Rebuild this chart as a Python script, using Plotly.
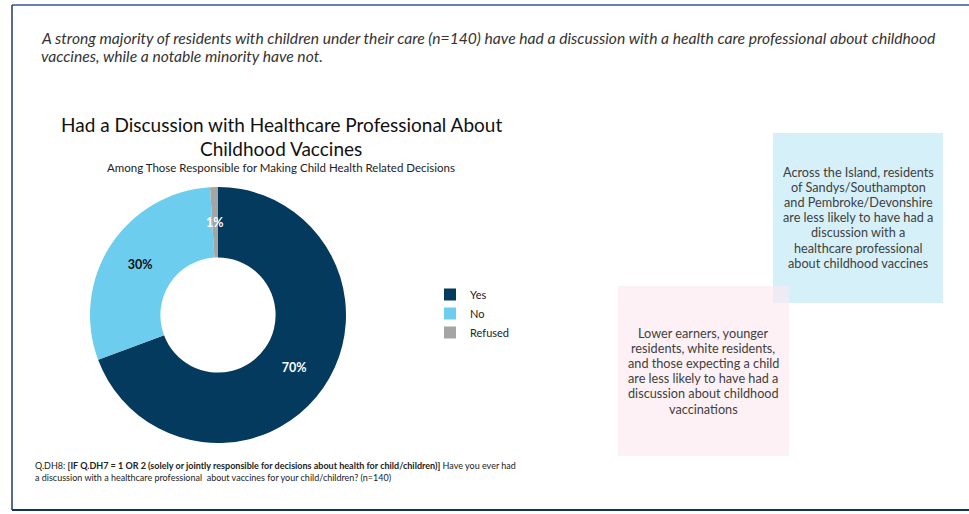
import math
import plotly.graph_objects as go

W, H = 969, 514

categories = ["Yes", "No", "Refused"]
values = [70, 30, 1]
labels_text = ["70%", "30%", "1%"]
colors = ["#033a5e", "#6dcdee", "#a5a5a5"]
label_colors = ["#ffffff", "#111111", "#ffffff"]

headline_lines = [
    "A strong majority of residents with children under their care (n=140) have had a discussion with a health care professional about childhood",
    "vaccines, while a notable minority have not.",
]
title_lines = ["Had a Discussion with Healthcare Professional About", "Childhood Vaccines"]
subtitle = "Among Those Responsible for Making Child Health Related Decisions"
footnote_lines = [
    "Q.DH8: <b>[IF Q.DH7 = 1 OR 2 (solely or jointly responsible for decisions about health for child/children)]</b> Have you ever had",
    "a discussion with a healthcare professional  about vaccines for your child/children? (n=140)",
]
blue_lines = ["Across the Island, residents", "of Sandys/Southampton", "and Pembroke/Devonshire",
              "are less likely to have had a", "discussion with a", "healthcare professional",
              "about childhood vaccines"]
pink_lines = ["Lower earners, younger", "residents, white residents,", "and those expecting a child",
              "are less likely to have had a", "discussion about childhood", "vaccinations"]

FONT = "Lato"


def px(x):
    return x / W


def py(y):
    return 1 - y / H


# donut geometry (pixels)
PIE_L, PIE_R, PIE_T, PIE_B = 90, 346, 187, 443
HOLE = 0.45

fig = go.Figure()
fig.add_trace(go.Pie(
    labels=categories,
    values=values,
    text=[t if v / sum(values) > 0.05 else "" for t, v in zip(labels_text, values)],
    textinfo="text",
    textposition="inside",
    insidetextorientation="horizontal",
    textfont=dict(family=FONT, size=12.5, color=label_colors, weight="bold"),
    marker=dict(colors=colors, line=dict(width=0)),
    hole=HOLE,
    sort=False,
    direction="clockwise",
    rotation=0,
    domain=dict(x=[px(PIE_L), px(PIE_R)], y=[py(PIE_B), py(PIE_T)]),
    showlegend=True,
    hoverinfo="label+percent",
))

annotations = []

# labels for thin slices, placed at the slice's mid angle at mid-ring radius
total = sum(values)
cx, cy = (PIE_L + PIE_R) / 2, (PIE_T + PIE_B) / 2
R = (PIE_R - PIE_L) / 2
rmid = R * (1 + HOLE) / 2
cum = 0
for t, v, c in zip(labels_text, values, label_colors):
    frac = v / total
    if frac <= 0.05:
        ang = 2 * math.pi * (cum + frac / 2)
        x = cx + rmid * math.sin(ang)
        y = cy - rmid * math.cos(ang)
        annotations.append(dict(text="<b>" + t + "</b>", x=px(x), y=py(y), xanchor="center", yanchor="middle",
                                font=dict(family=FONT, size=12.5, color=c), showarrow=False,
                                xref="paper", yref="paper"))
    cum += frac


def add_lines(lines, x, y0, dy, size, color, anchor, italic=False):
    for i, ln in enumerate(lines):
        txt = "<i>" + ln + "</i>" if italic else ln
        annotations.append(dict(text=txt, x=px(x), y=py(y0 + i * dy), xanchor=anchor, yanchor="middle",
                                align=anchor if anchor != "center" else "center",
                                font=dict(family=FONT, size=size, color=color), showarrow=False,
                                xref="paper", yref="paper"))


add_lines(headline_lines, 39, 38, 18, 15.65, "#333333", "left", italic=True)
add_lines(title_lines, 281, 124, 24, 19, "#111111", "center")
add_lines([subtitle], 281, 168, 0, 11.5, "#222222", "center")
add_lines(footnote_lines, 33, 465, 12, 9, "#222222", "left")
add_lines(blue_lines, 858, 172, 15.1, 12.7, "#404040", "center")
add_lines(pink_lines, 703, 333, 15.1, 12.7, "#404040", "center")

shapes = [
    dict(type="rect", xref="paper", yref="paper", x0=px(773), x1=px(943), y0=py(303), y1=py(133),
         fillcolor="rgba(196,233,246,0.7)", line=dict(width=0), layer="below"),
    dict(type="rect", xref="paper", yref="paper", x0=px(618), x1=px(789), y0=py(456), y1=py(286),
         fillcolor="rgba(252,232,239,0.6)", line=dict(width=0), layer="below"),
    dict(type="line", xref="paper", yref="paper", x0=px(12), x1=1, y0=py(5), y1=py(5),
         line=dict(color="#34578f", width=1.5)),
    dict(type="line", xref="paper", yref="paper", x0=px(12), x1=px(12), y0=py(5), y1=py(510),
         line=dict(color="#1f3a66", width=1.5)),
    dict(type="line", xref="paper", yref="paper", x0=px(12), x1=1, y0=py(510), y1=py(510),
         line=dict(color="#15325e", width=2)),
]

fig.update_layout(
    width=W, height=H,
    margin=dict(l=0, r=0, t=0, b=0),
    paper_bgcolor="white",
    plot_bgcolor="white",
    shapes=shapes,
    annotations=annotations,
    legend=dict(x=px(430), y=py(280), xanchor="left", yanchor="top",
                font=dict(family=FONT, size=11, color="#222222"),
                itemwidth=30, tracegroupgap=0, bgcolor="rgba(0,0,0,0)"),
)

fig.write_html("out.html", config={"displayModeBar": False},
               post_script="document.body.style.margin='0';document.body.style.overflow='hidden';")
